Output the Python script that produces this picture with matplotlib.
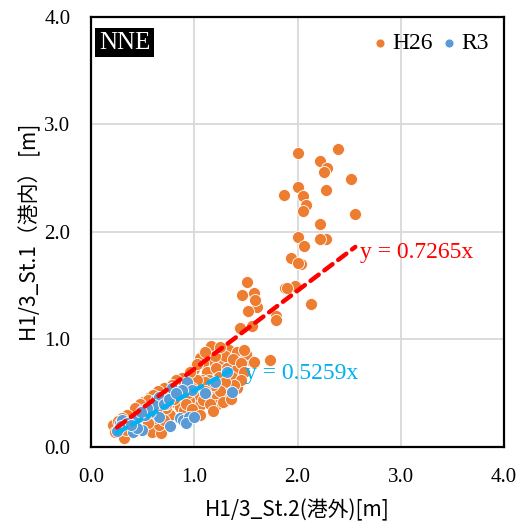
import matplotlib
matplotlib.use("Agg")
import matplotlib.pyplot as plt
import numpy as np

# ---- data ----
h26_x = [2.39, 2.00, 2.22, 2.29, 2.26, 2.52, 2.00, 2.28, 1.87, 2.05, 2.08, 2.05, 2.56, 2.22,
         2.28, 2.22, 2.00, 2.06, 1.94, 2.03, 2.00, 1.88, 1.98, 1.90, 2.13, 1.58, 1.61, 1.59,
         1.51, 1.46, 1.79, 1.79, 1.56, 1.44, 1.52, 1.73, 1.54, 1.16,
         1.24, 1.34, 1.41, 1.50, 1.58, 1.42, 1.27, 1.17, 1.08, 1.12, 1.21, 1.32, 1.41, 1.07,
         1.14, 1.24, 1.36, 1.27, 1.41, 1.17, 1.05, 1.13, 1.22, 1.32, 1.00, 1.21, 1.05, 1.00,
         0.95, 0.90, 1.05,
         0.21, 0.23, 0.28, 0.32, 0.34, 0.50, 0.52, 0.59, 0.68, 0.66, 0.61, 0.71, 0.76, 0.84,
         0.88, 0.81, 0.86, 0.57, 0.66, 0.76, 0.95, 0.90, 0.45, 0.38, 0.55, 0.72, 1.10, 1.28,
         1.30, 1.37, 1.45, 1.48, 1.45, 1.38, 1.30, 1.25, 1.18, 1.10, 1.02, 0.98, 0.94, 1.08,
         1.15, 1.28, 1.35, 1.20, 1.10, 1.25, 1.02, 0.96, 0.88, 0.82, 0.78, 0.70, 0.65, 0.60,
         0.55, 0.47, 0.42, 0.35, 0.30, 0.26, 0.80, 0.92, 0.98, 0.72, 0.64, 1.05, 1.18, 0.70,
         0.55, 1.48]
h26_y = [2.77, 2.73, 2.66, 2.59, 2.56, 2.49, 2.42, 2.39, 2.34, 2.33, 2.25, 2.19, 2.17, 2.07,
         1.93, 1.93, 1.95, 1.87, 1.76, 1.70, 1.71, 1.48, 1.50, 1.48, 1.33, 1.43, 1.30, 1.37,
         1.53, 1.41, 1.22, 1.18, 1.12, 1.11, 1.26, 0.81, 0.81, 0.94,
         0.87, 0.90, 0.88, 0.86, 0.79, 0.79, 0.79, 0.81, 0.78, 0.70, 0.73, 0.73, 0.72, 0.62,
         0.62, 0.65, 0.65, 0.55, 0.55, 0.53, 0.55, 0.46, 0.46, 0.47, 0.47, 0.39, 0.39, 0.72,
         0.64, 0.58, 0.83,
         0.20, 0.14, 0.19, 0.08, 0.16, 0.42, 0.37, 0.14, 0.13, 0.20, 0.27, 0.47, 0.50, 0.55,
         0.48, 0.42, 0.37, 0.46, 0.34, 0.30, 0.44, 0.34, 0.30, 0.28, 0.40, 0.36, 0.60, 0.58,
         0.85, 0.82, 0.78, 0.70, 0.62, 0.58, 0.60, 0.52, 0.58, 0.52, 0.62, 0.55, 0.50, 0.44,
         0.40, 0.42, 0.45, 0.85, 0.88, 0.93, 0.77, 0.70, 0.64, 0.62, 0.58, 0.55, 0.52, 0.48,
         0.44, 0.40, 0.36, 0.30, 0.27, 0.24, 0.45, 0.40, 0.35, 0.40, 0.36, 0.30, 0.33, 0.25,
         0.22, 0.90]

r3_x = [0.28, 0.30, 0.40, 0.45, 0.49, 0.40, 0.50, 0.57, 0.63, 0.76, 0.86, 0.89, 0.66, 0.57,
        0.93, 0.78, 0.66, 0.95, 0.92, 1.00, 1.36, 1.32, 0.61, 0.29, 0.44, 0.98, 0.88,
        0.35, 0.52, 0.70, 0.75, 0.82, 0.54, 0.48, 0.38, 1.10, 1.20, 0.25]
r3_y = [0.22, 0.25, 0.22, 0.28, 0.16, 0.14, 0.34, 0.37, 0.44, 0.19, 0.27, 0.25, 0.28, 0.32,
        0.60, 0.55, 0.46, 0.28, 0.22, 0.28, 0.51, 0.70, 0.39, 0.19, 0.18, 0.53, 0.53,
        0.22, 0.30, 0.40, 0.45, 0.50, 0.36, 0.32, 0.20, 0.50, 0.60, 0.15]

h26_slope = 0.7265
r3_slope = 0.5259
h26_fit_range = [0.25, 2.56]
r3_fit_range = [0.25, 1.35]

ticks = [0.0, 1.0, 2.0, 3.0, 4.0]

serif = "Liberation Serif"
cjk = ["Noto Sans CJK JP", "DejaVu Sans"]

orange = "#ED7D31"
blue = "#5B9BD5"

fig = plt.figure(figsize=(5.22, 5.27), dpi=100)
ax = fig.add_axes([0.175, 0.152, 0.790, 0.816])

ax.scatter(h26_x, h26_y, s=75, color=orange, edgecolors="white", linewidths=0.6,
           zorder=3, label="H26")
ax.scatter(r3_x, r3_y, s=75, color=blue, edgecolors="white", linewidths=0.6,
           zorder=4, label="R3")

xr = np.array(h26_fit_range)
ax.plot(xr, h26_slope * xr, color="#FF0000", lw=3.2, linestyle=(0, (2.3, 1.6)),
        dash_capstyle="round", zorder=5)
xb = np.array(r3_fit_range)
ax.plot(xb, r3_slope * xb, color="#00B0F0", lw=3.2, linestyle=(0, (2.3, 1.6)),
        dash_capstyle="round", zorder=5)

ax.text(2.61, 1.81, f"y = {h26_slope}x", color="#FF0000", fontsize=17,
        family=serif, va="center", ha="left", zorder=6)
ax.text(1.49, 0.68, f"y = {r3_slope}x", color="#00B0F0", fontsize=17,
        family=serif, va="center", ha="left", zorder=6)

ax.set_xlim(0, 4)
ax.set_ylim(0, 4)
ax.set_xticks(ticks)
ax.set_yticks(ticks)
ax.set_xticklabels([f"{t:.1f}" for t in ticks], family=serif, fontsize=15)
ax.set_yticklabels([f"{t:.1f}" for t in ticks], family=serif, fontsize=15)
ax.tick_params(length=0, pad=15)
ax.grid(True, color="#D9D9D9", lw=1.3, zorder=0)
ax.set_axisbelow(True)
for sp in ax.spines.values():
    sp.set_linewidth(1.6)
    sp.set_color("black")

ax.set_xlabel("H1/3_St.2(港外)[m]", family=cjk, fontsize=15, labelpad=9)
ax.set_ylabel("H1/3_St.1（港内） [m]", family=cjk, fontsize=15, labelpad=2)

ax.text(0.018, 0.965, "NNE", transform=ax.transAxes, color="white", fontsize=18,
        family=serif, va="top", ha="left",
        bbox=dict(facecolor="black", edgecolor="none", pad=2.5), zorder=7)

leg = ax.legend(loc="upper right", bbox_to_anchor=(1.0, 1.0), ncol=2, frameon=False,
                prop={"family": serif, "size": 17}, handlelength=0.6, handletextpad=0.2,
                columnspacing=0.4, markerscale=0.75, borderaxespad=0.25)

fig.savefig("out.png", dpi=100)
